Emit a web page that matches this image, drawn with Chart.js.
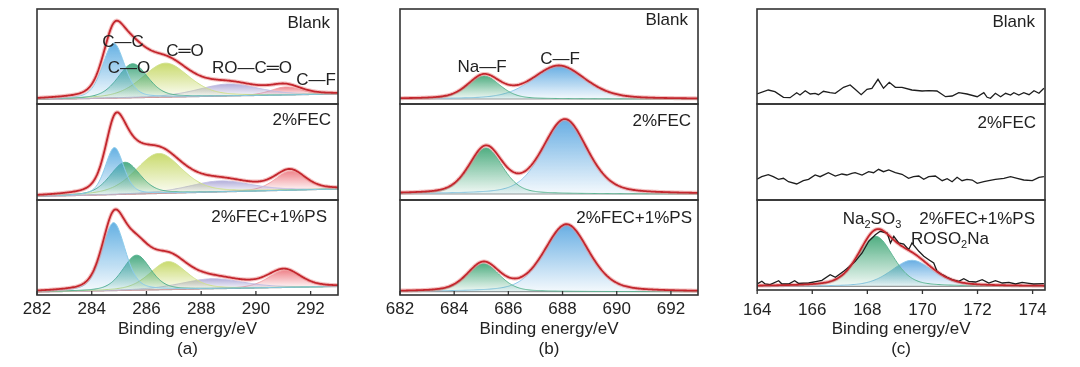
<!DOCTYPE html>
<html>
<head>
<meta charset="utf-8">
<script src="https://cdn.jsdelivr.net/npm/chart.js@4.4.0/dist/chart.umd.min.js"></script>
<style>
  body { margin: 0; width: 1080px; height: 367px; background: #fff; position: relative; overflow: hidden;
         font-family: "Liberation Sans", Arial, sans-serif; color: #222; }
  canvas { position: absolute; }
  .lbl { position: absolute; font-size: 17px; line-height: 20px; white-space: nowrap; }
  .lbl sub { font-size: 11px; vertical-align: -4px; line-height: 0; }
</style>
</head>
<body>
<script>
// ---- data (intensity = px above the bottom of each sub-plot) ----

// (a) C 1s fits, rows: Blank, 2%FEC, 2%FEC+1%PS ; peaks: C—C, C—O, C═O, RO—C═O, C—F
const aCenter = [
  [284.8, 285.5, 286.7, 289.0, 291.1],
  [284.83, 285.22, 286.45, 288.7, 291.25],
  [284.8, 285.64, 286.8, 288.4, 291.04]
];
const aHeight = [
  [55, 34, 34, 12, 8],
  [47, 32, 40, 11, 19],
  [68, 35, 28, 10, 17]
];
const aFwhm = [
  [0.95, 1.3, 2.0, 2.6, 1.3],
  [0.8, 1.3, 2.0, 2.7, 1.3],
  [1.0, 1.2, 1.6, 2.7, 1.4]
];
const aBackground = [[4.5, 10], [3.5, 11], [3, 8.5]];

// (b) F 1s fits ; peaks: Na—F, C—F
const bCenter = [[685.1, 687.87], [685.17, 688.09], [685.08, 688.15]];
const bHeight = [[23, 33], [46, 74], [28, 67]];
const bFwhm = [[1.4, 2.3], [1.45, 1.95], [1.4, 1.95]];
const bBackground = [[5, 5], [6, 6], [3.3, 3.3]];

// (c) S 2p, only 2%FEC+1%PS has peaks ; Na2SO3, ROSO2Na
const cCenter = [168.3, 169.62];
const cHeight = [50, 26];
const cFwhm = [1.5, 1.8];
const cBackground = [3.7, 3.7];

// (c) raw traces
const cBlankE = [164.00, 164.41, 164.65, 164.96, 165.20, 165.44, 165.56, 165.75, 165.93, 166.11, 166.23, 166.41,
  166.65, 166.84, 167.14, 167.38, 167.56, 167.78, 167.99, 168.17, 168.39, 168.59, 168.80, 169.02, 169.26, 169.62,
  169.99, 170.23, 170.53, 170.84, 171.08, 171.32, 171.62, 171.99, 172.23, 172.35, 172.47, 172.65, 172.84, 173.02,
  173.20, 173.32, 173.50, 173.68, 173.87, 174.05, 174.23, 174.41];
const cBlankI = [10.0, 14.0, 12.3, 6.7, 6.3, 11.3, 9.0, 13.3, 10.0, 10.7, 9.3, 12.7,
  11.3, 10.7, 16.7, 19.0, 14.7, 9.3, 14.7, 15.7, 24.7, 15.7, 21.7, 16.7, 16.7, 14.0,
  13.0, 13.3, 13.0, 7.3, 8.0, 11.3, 10.0, 7.3, 11.3, 6.7, 5.7, 10.7, 7.3, 10.7,
  9.0, 11.3, 9.0, 11.3, 9.3, 13.3, 10.7, 15.7];

const cFecE = [164.00, 164.17, 164.41, 164.59, 164.78, 164.96, 165.14, 165.44, 165.68, 165.87, 166.11, 166.29,
  166.59, 166.84, 167.08, 167.26, 167.44, 167.56, 167.81, 168.05, 168.23, 168.41, 168.59, 168.78, 169.02, 169.26,
  169.50, 169.68, 169.87, 170.05, 170.23, 170.47, 170.72, 170.90, 171.08, 171.26, 171.44, 171.62, 171.81, 171.99,
  172.23, 172.41, 172.65, 172.96, 173.20, 173.44, 173.68, 173.99, 174.23, 174.41];
const cFecI = [20.7, 23.3, 25.3, 23.3, 20.7, 21.7, 18.3, 16.0, 19.3, 20.7, 25.0, 23.3,
  27.3, 24.0, 26.0, 25.0, 26.7, 27.3, 25.0, 28.3, 27.3, 30.7, 28.3, 30.0, 27.3, 25.7,
  21.7, 23.3, 24.0, 20.7, 23.3, 24.0, 19.3, 21.3, 18.3, 22.7, 19.3, 20.7, 20.0, 16.7,
  18.3, 19.3, 20.7, 21.7, 23.3, 21.7, 20.0, 19.3, 22.7, 23.3];

const cPsE = [164.00, 164.17, 164.29, 164.47, 164.78, 164.90, 165.14, 165.36, 165.50, 165.87, 166.17, 166.35,
  166.65, 166.84, 167.14, 167.32, 167.56, 167.81, 168.05, 168.29, 168.47, 168.72, 168.84, 168.96, 169.14, 169.32,
  169.50, 169.62, 169.87, 170.05, 170.23, 170.41, 170.53, 170.72, 170.90, 171.08, 171.32, 171.50, 171.68, 171.93,
  172.17, 172.41, 172.65, 172.90, 173.14, 173.38, 173.62, 173.87, 174.04, 174.41];
const cPsI = [6.0, 8.7, 6.0, 5.3, 9.3, 6.0, 6.0, 9.3, 6.7, 7.0, 8.7, 9.7,
  15.3, 12.7, 18.7, 22.7, 28.7, 37.0, 48.7, 55.3, 58.7, 57.0, 47.0, 53.7, 47.0, 46.0,
  40.3, 47.0, 38.7, 33.7, 30.3, 27.0, 18.7, 15.3, 12.7, 10.3, 8.7, 11.3, 8.7, 8.0,
  10.3, 7.0, 9.3, 7.0, 7.7, 6.0, 7.7, 6.7, 6.0, 6.3];

const rowLabels = ['Blank', '2%FEC', '2%FEC+1%PS'];

// ---- drawing ----
Chart.defaults.font.family = '"Liberation Sans", Arial, sans-serif';
Chart.defaults.color = '#222';

const ETA = 0.35;   // Lorentzian share of the pseudo-Voigt line shape
const STEP = 0.04;

function voigt(e, c, h, w) {
  const d = (e - c) / w;
  return h * ((1 - ETA) * Math.exp(-4 * Math.LN2 * d * d) + ETA / (1 + 4 * d * d));
}

function bgAt(e, min, max, b) {
  return b[0] + (b[1] - b[0]) * (e - min) / (max - min);
}

function gradient(ctx, topVal, baseVal, rgb) {
  const chart = ctx.chart;
  if (!chart.chartArea) return 'rgba(' + rgb + ',0.4)';
  const y = chart.scales.y;
  const g = chart.ctx.createLinearGradient(0, y.getPixelForValue(topVal), 0, y.getPixelForValue(baseVal));
  g.addColorStop(0, 'rgba(' + rgb + ',0.85)');
  g.addColorStop(1, 'rgba(' + rgb + ',0.06)');
  return g;
}

function fitSets(min, max, centers, heights, fwhms, bg, fills, lines) {
  const xs = [];
  for (let e = min; e <= max + 1e-9; e += STEP) xs.push(e);
  const base = xs.map(e => ({ x: e, y: bgAt(e, min, max, bg) }));
  const sets = [{ data: base, borderColor: '#9a9a9a', borderWidth: 1.2, fill: false, order: 30 }];
  const env = base.map(p => ({ x: p.x, y: p.y }));
  centers.forEach((c, i) => {
    const data = xs.map((e, k) => {
      const v = voigt(e, c, heights[i], fwhms[i]);
      env[k].y += v;
      return { x: e, y: base[k].y + v };
    });
    const b0 = bgAt(c, min, max, bg);
    sets.push({
      data: data, borderColor: lines[i], borderWidth: 1, order: 10 + i, fill: 0,
      backgroundColor: ctx => gradient(ctx, b0 + heights[i], b0, fills[i])
    });
  });
  sets.push({ data: env, borderColor: 'rgba(235,140,140,0.55)', borderWidth: 4, fill: false, order: 3 });
  sets.push({ data: env, borderColor: '#c3262d', borderWidth: 1.8, fill: false, order: 1 });
  return sets;
}

function rawSet(es, is) {
  return { data: es.map((e, i) => ({ x: e, y: is[i] })), borderColor: '#1e1e1e', borderWidth: 1.3, fill: false, order: 2 };
}

const boxPlugin = {
  id: 'box',
  afterDatasetsDraw(chart, args, o) {
    const { ctx, chartArea: a } = chart;
    ctx.save();
    ctx.strokeStyle = '#333';
    ctx.lineWidth = 1.6;
    ctx.strokeRect(a.left, a.top, a.right - a.left, a.bottom - a.top);
    if (o.ticks) {
      const x = chart.scales.x;
      ctx.beginPath();
      x.ticks.forEach(t => {
        const px = x.getPixelForValue(t.value);
        ctx.moveTo(px, a.bottom);
        ctx.lineTo(px, a.bottom + (o.tickIn ? -4 : 4));
      });
      ctx.lineWidth = 1.3;
      ctx.stroke();
    }
    ctx.restore();
  }
};

const PAD = 24;
const H = 367;

function addChart(panel, r, datasets) {
  const [top, bottom] = panel.rows[r];
  const last = r === 2;
  const cv = document.createElement('canvas');
  const w = panel.right - panel.left + 2 * PAD;
  const h = last ? H - (top - 2) : bottom - top + 4;
  cv.width = w; cv.height = h;
  cv.style.left = (panel.left - PAD) + 'px';
  cv.style.top = (top - 2) + 'px';
  document.body.appendChild(cv);
  const xScale = {
    type: 'linear', min: panel.min, max: panel.max, display: last,
    grid: { display: false, drawTicks: false }, border: { display: false },
    ticks: { stepSize: 2, includeBounds: false, font: { size: 17 }, color: '#222', padding: panel.tickPad },
    title: { display: true, text: ['Binding energy/eV', panel.tag], font: { size: 17 }, color: '#222',
             padding: { top: 0, bottom: 7 } }
  };
  if (last) xScale.afterFit = s => { s.height = H - bottom; };
  new Chart(cv, {
    type: 'line',
    data: { datasets: datasets },
    options: {
      responsive: false,
      animation: false,
      events: [],
      layout: { padding: { left: PAD, right: PAD, top: 2, bottom: last ? 0 : 2 } },
      elements: { point: { radius: 0 }, line: { tension: 0 } },
      plugins: { legend: { display: false }, tooltip: { enabled: false }, box: { ticks: last, tickIn: panel.tickIn } },
      scales: {
        x: xScale,
        y: { min: 0, max: bottom - top, display: false }
      }
    },
    plugins: [boxPlugin]
  });
}

const panelA = { min: 282, max: 293, left: 37, right: 338, tickIn: true, tickPad: 4, tag: '(a)',
                 rows: [[9, 104], [104, 200], [200, 295]] };
const panelB = { min: 682, max: 693, left: 400, right: 698, tickIn: true, tickPad: 4, tag: '(b)',
                 rows: [[9, 104], [104, 200], [200, 295]] };
const panelC = { min: 164, max: 174.45, left: 757, right: 1045, tickIn: false, tickPad: 10, tag: '(c)',
                 rows: [[9, 104], [104, 200], [200, 290]] };

const aFill = ['74,163,222', '46,158,112', '192,212,84', '165,160,212', '236,112,120'];
const aLine = ['#8ccbea', '#52b08c', '#cfe08c', '#c0bde2', '#f0a0a4'];
const gbFill = ['50,160,108', '78,160,222'];
const gbLine = ['#5db592', '#8cc6ea'];

for (let r = 0; r < 3; r++) {
  addChart(panelA, r, fitSets(panelA.min, panelA.max, aCenter[r], aHeight[r], aFwhm[r], aBackground[r], aFill, aLine));
  addChart(panelB, r, fitSets(panelB.min, panelB.max, bCenter[r], bHeight[r], bFwhm[r], bBackground[r], gbFill, gbLine));
}
addChart(panelC, 0, [rawSet(cBlankE, cBlankI)]);
addChart(panelC, 1, [rawSet(cFecE, cFecI)]);
const cSets = fitSets(panelC.min, panelC.max, cCenter, cHeight, cFwhm, cBackground, gbFill, gbLine);
cSets.push(rawSet(cPsE, cPsI));
addChart(panelC, 2, cSets);

// ---- text labels ----
function label(html, x, cy, align) {
  const d = document.createElement('div');
  d.className = 'lbl';
  d.innerHTML = html;
  d.style.top = (cy - 10) + 'px';
  if (align === 'right') d.style.right = (1080 - x) + 'px';
  else { d.style.left = x + 'px'; d.style.transform = 'translateX(-50%)'; }
  document.body.appendChild(d);
}

[[330, 23], [331, 120], [327, 217]].forEach((p, i) => label(rowLabels[i], p[0], p[1], 'right'));
[[688, 20], [691, 121], [692, 218]].forEach((p, i) => label(rowLabels[i], p[0], p[1], 'right'));
[[1035, 22], [1036, 123], [1035, 219]].forEach((p, i) => label(rowLabels[i], p[0], p[1], 'right'));

label('C—C', 123, 42);
label('C—O', 129, 68);
label('C═O', 185, 51);
label('RO—C═O', 252, 68);
label('C—F', 316, 80);
label('Na—F', 482, 67);
label('C—F', 560, 59);
label('Na<sub>2</sub>SO<sub>3</sub>', 872, 219);
label('ROSO<sub>2</sub>Na', 950, 239);
</script>
</body>
</html>
